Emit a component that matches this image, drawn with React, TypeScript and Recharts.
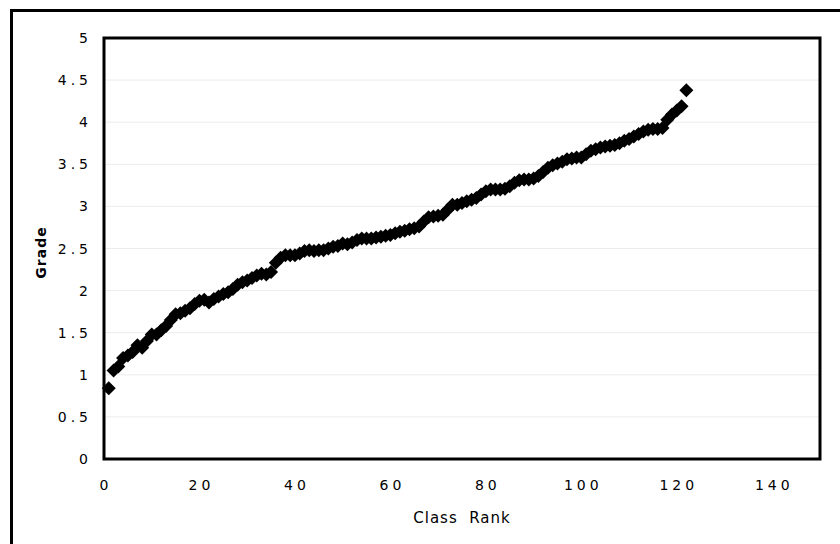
import { ScatterChart, Scatter, XAxis, YAxis, CartesianGrid, ReferenceArea, Label } from 'recharts';

// grade of each student, ordered by class rank (rank 1 .. 122)
const grades = [
  0.84, 1.05, 1.1, 1.2, 1.23, 1.27, 1.35, 1.32, 1.4, 1.48,
  1.48, 1.53, 1.58, 1.65, 1.72, 1.73, 1.76, 1.79, 1.84, 1.88,
  1.89, 1.86, 1.9, 1.93, 1.96, 1.98, 2.02, 2.07, 2.1, 2.12,
  2.15, 2.18, 2.2, 2.19, 2.22, 2.33, 2.39, 2.42, 2.42, 2.42,
  2.44, 2.47, 2.48, 2.47, 2.48, 2.48, 2.5, 2.52, 2.53, 2.56,
  2.55, 2.57, 2.6, 2.62, 2.62, 2.62, 2.63, 2.64, 2.65, 2.66,
  2.68, 2.7, 2.71, 2.73, 2.74, 2.76, 2.82, 2.87, 2.88, 2.89,
  2.9, 2.96, 3.02, 3.02, 3.04, 3.06, 3.08, 3.1, 3.14, 3.18,
  3.2, 3.2, 3.2, 3.21, 3.24, 3.28, 3.31, 3.32, 3.32, 3.33,
  3.36, 3.41, 3.46, 3.49, 3.51, 3.53, 3.56, 3.57, 3.58, 3.58,
  3.62, 3.66, 3.68, 3.7, 3.71, 3.72, 3.73, 3.75, 3.78, 3.8,
  3.83, 3.86, 3.89, 3.91, 3.92, 3.92, 3.93, 4.03, 4.09, 4.14,
  4.19, 4.38,
];

const xTicks = [0, 20, 40, 60, 80, 100, 120, 140];
const yTicks = [0, 0.5, 1, 1.5, 2, 2.5, 3, 3.5, 4, 4.5, 5];

const data = grades.map((grade, i) => ({ rank: i + 1, grade }));

const FONT = '"DejaVu Sans", Verdana, sans-serif';

function XTick({ x, y, payload }: any) {
  return (
    <text x={x + 2} y={y + 23} textAnchor="middle" fontFamily={FONT} fontSize={14} letterSpacing={4} fill="#000">
      {payload.value}
    </text>
  );
}

function YTick({ x, y, payload }: any) {
  return (
    <text x={x - 4} y={y} dy="0.36em" textAnchor="end" fontFamily={FONT} fontSize={14} letterSpacing={4} fill="#000">
      {payload.value}
    </text>
  );
}

function Diamond({ cx, cy }: any) {
  const r = 7;
  return <polygon points={`${cx},${cy - r} ${cx + r},${cy} ${cx},${cy + r} ${cx - r},${cy}`} fill="#000" />;
}

function GradeLabel({ viewBox }: any) {
  const cx = viewBox.x + 21;
  const cy = viewBox.y + viewBox.height / 2 + 4;
  return (
    <text
      x={cx}
      y={cy}
      transform={`rotate(-90, ${cx}, ${cy})`}
      textAnchor="middle"
      dominantBaseline="central"
      fontFamily={FONT}
      fontSize={14}
      fontWeight="bold"
      letterSpacing={1}
      fill="#000"
    >
      Grade
    </text>
  );
}

export default function App() {
  return (
    <div style={{ position: 'absolute', left: 0, top: 0, width: 840, height: 544, background: '#fff', overflow: 'hidden' }}>
      <div
        style={{
          position: 'absolute',
          left: 10,
          top: 9,
          width: 900,
          height: 600,
          borderLeft: '3px solid #000',
          borderTop: '3px solid #000',
        }}
      />
      <div style={{ position: 'absolute', left: 0, top: 0 }}>
        <ScatterChart width={840} height={544} margin={{ top: 38, right: 20, bottom: 21, left: 20 }}>
          <CartesianGrid vertical={false} stroke="#ececec" strokeWidth={1} />
          <XAxis
            type="number"
            dataKey="rank"
            domain={[0, 150]}
            ticks={xTicks}
            tick={<XTick />}
            tickLine={false}
            axisLine={false}
            height={64}
            interval={0}
          >
            <Label
              value={'Class\u00a0\u00a0Rank'}
              position="insideBottom"
              offset={0}
              style={{ fontFamily: FONT, fontSize: 15, letterSpacing: 1, fill: '#000' }}
            />
          </XAxis>
          <YAxis
            type="number"
            dataKey="grade"
            domain={[0, 5]}
            ticks={yTicks}
            tick={<YTick />}
            tickLine={false}
            axisLine={false}
            width={84}
            interval={0}
          >
            <Label content={<GradeLabel />} />
          </YAxis>
          <ReferenceArea x1={0} x2={150} y1={0} y2={5} fill="none" stroke="#000" strokeWidth={3} fillOpacity={0} />
          <Scatter data={data} shape={<Diamond />} isAnimationActive={false} />
        </ScatterChart>
      </div>
    </div>
  );
}
